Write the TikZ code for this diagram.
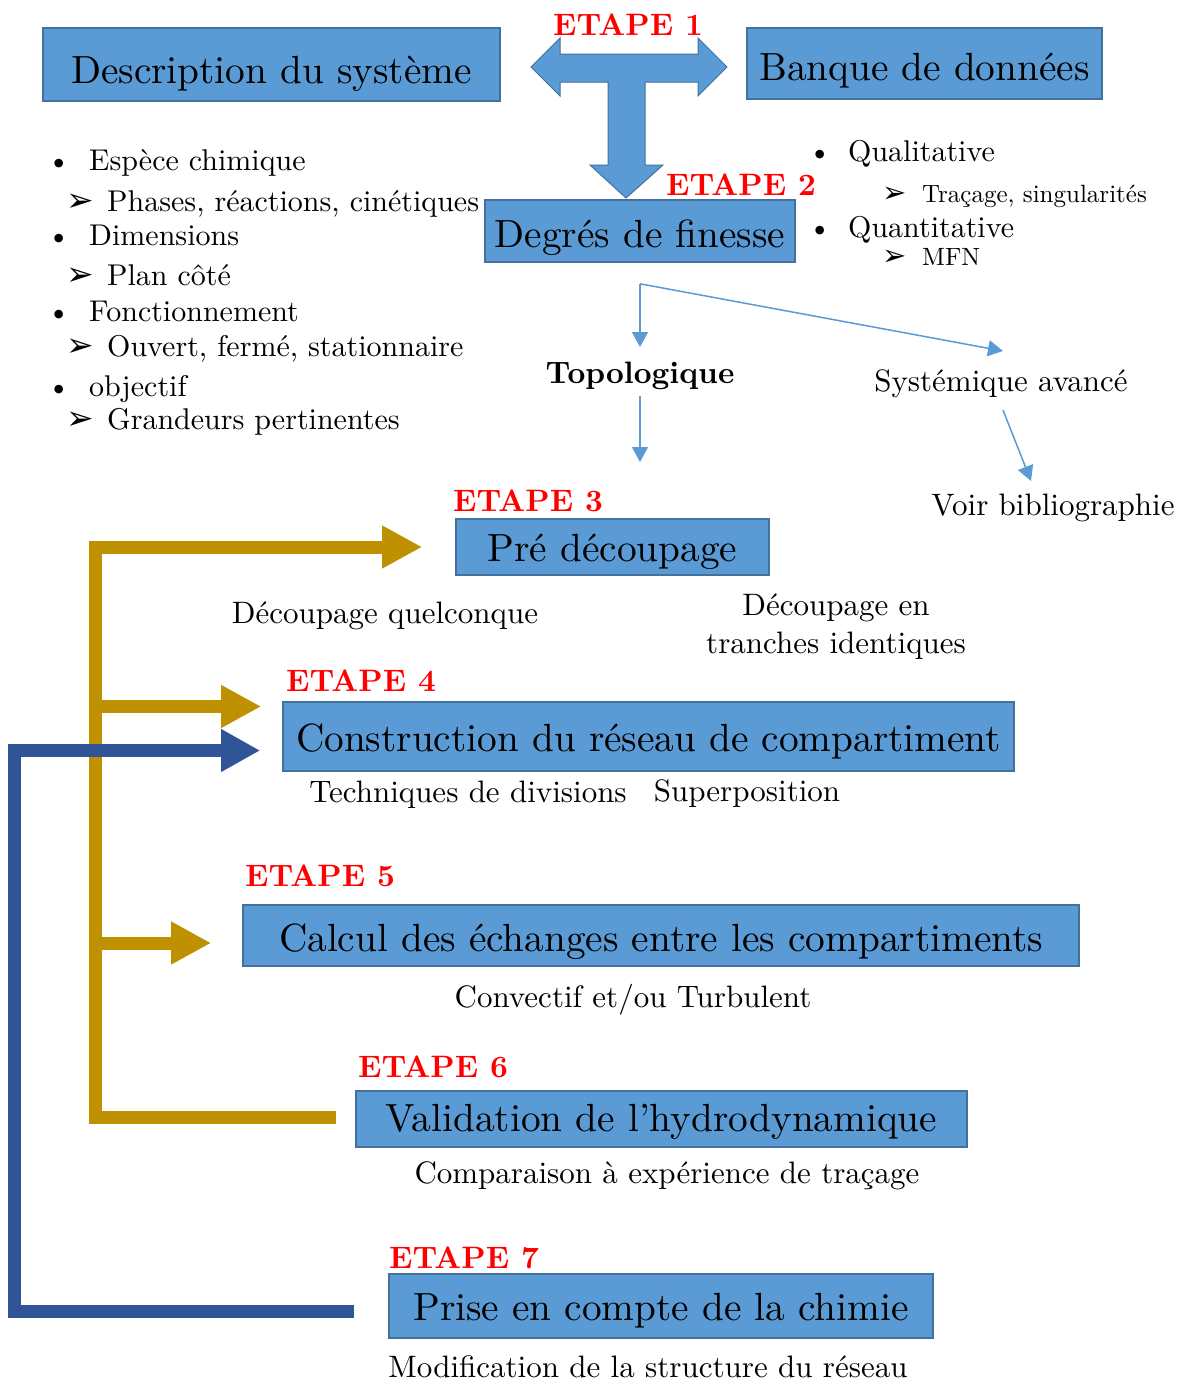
\documentclass[tikz,border=0pt]{standalone}
\usepackage{fontspec}
\setmainfont{lmroman10}[Extension=.otf, UprightFont=*-regular, BoldFont=*-bold, ItalicFont=*-italic, BoldItalicFont=*-bolditalic]
\newfontfamily\dejavu{DejaVu Sans}
\usetikzlibrary{arrows.meta,calc}
\definecolor{boxfill}{HTML}{5B9BD5}
\definecolor{boxline}{HTML}{41719C}
\definecolor{goldc}{HTML}{BF9000}
\definecolor{navyc}{HTML}{2F5597}
\newcommand\lstarrow{{\dejavu\fontsize{33}{33}\selectfont ➢}}
\newcommand\lstarrows{{\dejavu\fontsize{29}{29}\selectfont ➢}}
\begin{document}
\begin{tikzpicture}[x=1pt,y=-1pt,
  box/.style={draw=boxline,line width=1.6pt,fill=boxfill,inner sep=0pt,
    font=\fontsize{39.3}{47}\selectfont,text depth=3pt},
  etape/.style={anchor=base west,inner sep=0pt,text=red,font=\bfseries\fontsize{31}{37}\selectfont},
  lbl/.style={anchor=base,inner sep=0pt,font=\fontsize{31}{38}\selectfont},
  lst/.style={anchor=base west,inner sep=0pt,font=\fontsize{30}{36}\selectfont},
  lsts/.style={anchor=base west,inner sep=0pt,font=\fontsize{25}{30}\selectfont},
  thinarr/.style={draw=boxfill,line width=1.5pt,-{Triangle[length=15pt,width=16pt]}},
  goldarr/.style={draw=goldc,line width=13pt,line join=miter,-{Triangle[length=40pt,width=40pt]}},
  navyarr/.style={draw=navyc,line width=13pt,line join=miter,-{Triangle[length=39pt,width=40pt]}},
]
\fill[white] (0,0) rectangle (1180,1385);
\useasboundingbox (0,0) rectangle (1180,1385);

% boxes
\node[box,minimum width=457pt,minimum height=73pt,text height=40pt] (desc) at (271.5,64.5) {Description du système};
\node[box,minimum width=355pt,minimum height=71pt,text height=36pt] (banque) at (924.5,63.5) {Banque de données};
\node[box,minimum width=310pt,minimum height=62pt,text height=35pt] (deg) at (640,231) {Degrés de finesse};
\node[box,minimum width=313pt,minimum height=56pt,text height=32.4pt] (pre) at (612.5,547) {Pré découpage};
\node[box,minimum width=731pt,minimum height=69pt,text height=33.4pt] (cons) at (648.5,736.5) {Construction du réseau de compartiment};
\node[box,minimum width=836pt,minimum height=61pt,text height=35pt] (calc) at (661,935.5) {Calcul des échanges entre les compartiments};
\node[box,minimum width=611pt,minimum height=56pt,text height=27pt] (valid) at (661.5,1119) {Validation de l’hydrodynamique};
\node[box,minimum width=544pt,minimum height=64pt,text height=32.4pt] (prise) at (661,1306) {Prise en compte de la chimie};

% T-shaped block arrow (step 1)
\draw[fill=boxfill,draw=boxline,line width=1pt,line join=miter]
  (531,67) -- (560,38) -- (560,54) -- (698,54) -- (698,38) -- (727,67) -- (698,96) -- (698,82)
  -- (645,82) -- (645,165) -- (663,165) -- (626,198) -- (590,165) -- (608,165) -- (608,82)
  -- (560,82) -- (560,96) -- cycle;

% ETAPE labels
\node[etape] (e1) at (553,35) {ETAPE 1};
\node[etape] (e2) at (666,195) {ETAPE 2};
\node[etape] (e3) at (453,511.5) {ETAPE 3};
\node[etape] (e4) at (286,691) {ETAPE 4};
\node[etape] (e5) at (245,886) {ETAPE 5};
\node[etape] (e6) at (358,1077) {ETAPE 6};
\node[etape] (e7) at (389,1268) {ETAPE 7};

% left list
\node[lst] (l1) at (47,170.7) {\makebox[42pt][l]{\textbullet}Espèce chimique};
\node[lst] (l2) at (66,211.7) {\makebox[41pt][l]{\lstarrow}Phases, réactions, cinétiques};
\node[lst] (l3) at (47,245) {\makebox[42pt][l]{\textbullet}Dimensions};
\node[lst] (l4) at (66,285) {\makebox[41pt][l]{\lstarrow}Plan côté};
\node[lst] (l5) at (47,321.7) {\makebox[42pt][l]{\textbullet}Fonctionnement};
\node[lst] (l6) at (66,356.7) {\makebox[41pt][l]{\lstarrow}Ouvert, fermé, stationnaire};
\node[lst] (l7) at (47,396.7) {\makebox[42pt][l]{\textbullet}objectif};
\node[lst] (l8) at (66,429.3) {\makebox[41pt][l]{\lstarrow}Grandeurs pertinentes};

% right list
\node[lst] (r1) at (808,161) {\makebox[40pt][l]{\textbullet}Qualitative};
\node[lsts] (r2) at (882,202) {\makebox[40pt][l]{\lstarrows}Traçage, singularités};
\node[lst] (r3) at (808,237) {\makebox[40pt][l]{\textbullet}Quantitative};
\node[lsts] (r4) at (882,265) {\makebox[40pt][l]{\lstarrows}MFN};

% labels
\node[lbl,font=\bfseries\fontsize{31}{38}\selectfont] (topo) at (640,383) {Topologique};
\node[lbl] (syst) at (1001,391) {Systémique avancé};
\node[lbl] (voir) at (1053,515) {Voir bibliographie};
\node[lbl] (dq) at (385,623) {Découpage quelconque};
\node[inner sep=0pt,align=center,font=\fontsize{31}{38}\selectfont] (dt) at (836,627) {Découpage en\\tranches identiques};
\node[lbl] (tech) at (468,802) {Techniques de divisions};
\node[lbl] (sup) at (747,801) {Superposition};
\node[lbl] (conv) at (633,1007) {Convectif et/ou Turbulent};
\node[lbl] (comp) at (667,1183) {Comparaison à expérience de traçage};
\node[lbl] (modif) at (648,1377) {Modification de la structure du réseau};

% thin arrows
\coordinate (br) at ($(deg.south)+(0,21)$);
\draw[thinarr] (br) -- ($(topo.base)+(0,-36)$);
\draw[thinarr] (br) -- ($(syst.base)+(2,-40)$);
\draw[thinarr] ($(topo.base)+(0,13)$) -- ($(topo.base)+(0,79)$);
\draw[thinarr] ($(syst.base)+(2,19)$) -- ($(voir.base)+(-22,-34)$);

% gold feedback arrows
\coordinate (gx) at (95,0);
\coordinate (c3g) at ($(pre.west)+(-33,0)$);
\coordinate (c4g) at ($(cons.west)+(-21,-30)$);
\coordinate (c5g) at ($(calc.west)+(-31,7.5)$);
\draw[goldarr] ($(valid.west)+(-19,-2)$) -| (gx |- c3g) -- (c3g);
\draw[goldarr] (gx |- c4g) -- (c4g);
\draw[goldarr] (gx |- c5g) -- (c5g);

% navy feedback arrow
\coordinate (bx) at (14.5,0);
\coordinate (c4b) at ($(cons.west)+(-22,14)$);
\draw[navyarr] ($(prise.west)+(-34,5.5)$) -| (bx |- c4b) -- (c4b);
\end{tikzpicture}
\end{document}
